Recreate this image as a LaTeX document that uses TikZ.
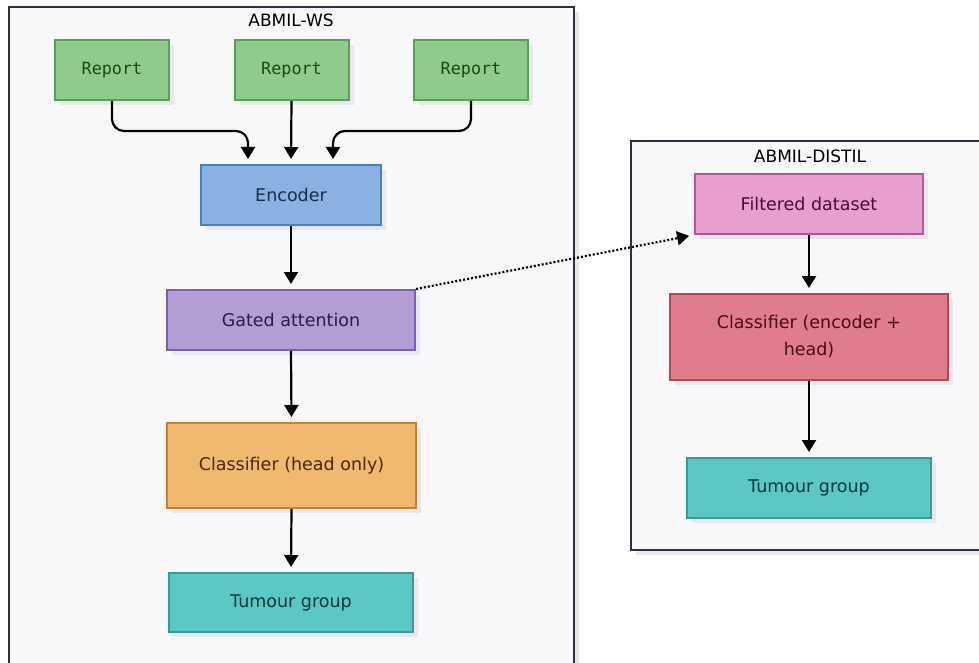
\documentclass[tikz,border=0pt]{standalone}
\usepackage{fontspec}
\setmainfont{DejaVu Sans}
\newfontfamily\repfont{DejaVu Sans Mono}
\usetikzlibrary{arrows.meta,shadows}
\definecolor{clfill}{HTML}{F8F8FB}
\definecolor{cldraw}{HTML}{2E2E40}
\definecolor{shade}{HTML}{E8E8EC}
\definecolor{repfill}{HTML}{8FCB8B}
\definecolor{repdraw}{HTML}{5BA056}
\definecolor{reptext}{HTML}{1A4718}
\definecolor{encfill}{HTML}{8BB0E2}
\definecolor{encdraw}{HTML}{4A7FC0}
\definecolor{enctext}{HTML}{172D4F}
\definecolor{gatfill}{HTML}{B39DD4}
\definecolor{gatdraw}{HTML}{7B5FB0}
\definecolor{gattext}{HTML}{2A1B47}
\definecolor{clsfill}{HTML}{F1B970}
\definecolor{clsdraw}{HTML}{C97D35}
\definecolor{clstext}{HTML}{452A0C}
\definecolor{tumfill}{HTML}{5CC8C6}
\definecolor{tumdraw}{HTML}{3A9A98}
\definecolor{tumtext}{HTML}{0C3837}
\definecolor{fdfill}{HTML}{E89FCF}
\definecolor{fddraw}{HTML}{B5569A}
\definecolor{fdtext}{HTML}{470C3A}
\definecolor{cefill}{HTML}{E07D8C}
\definecolor{cedraw}{HTML}{B04A5B}
\definecolor{cetext}{HTML}{470C16}
\tikzset{
  shad/.style={drop shadow={shadow xshift=5pt,shadow yshift=-5pt,fill=shade,opacity=1}},
  cluster/.style={draw=cldraw,fill=clfill,line width=2pt,shad},
  box/.style={rectangle,line width=2pt,inner sep=0pt,font=\fontsize{17.5}{27}\selectfont,align=center,shad},
  repbox/.style={box,fill=repfill,draw=repdraw,text=reptext,minimum width=114pt,minimum height=60pt,font=\repfont\fontsize{16.8}{20}\selectfont},
  arr/.style={-{Triangle[width=14pt,length=12pt]},line width=2.2pt,shorten >=5pt},
  ctitle/.style={font=\fontsize{17}{18}\selectfont,text=black}
}
\begin{document}
\begin{tikzpicture}[x=1pt,y=-1pt]
\useasboundingbox (0,0) rectangle (979,663);
\fill[white] (0,0) rectangle (979,663);
% clusters
\path[cluster] (9,7) rectangle (574,680);
\node[ctitle] (t1) at (291,20) {ABMIL-WS};
\path[cluster] (631,141) rectangle (995,550);
\node[ctitle] (t2) at (810,156) {ABMIL-DISTIL};
% left nodes
\node[repbox] (r1) at (112,70) {Report};
\node[repbox] (r2) at (291.5,70) {Report};
\node[repbox] (r3) at (471,70) {Report};
\node[box,fill=encfill,draw=encdraw,text=enctext,minimum width=180pt,minimum height=60pt] (enc) at (291,195) {Encoder};
\node[box,fill=gatfill,draw=gatdraw,text=gattext,minimum width=248pt,minimum height=60pt] (gat) at (291,320) {Gated attention};
\node[box,fill=clsfill,draw=clsdraw,text=clstext,minimum width=249pt,minimum height=85pt] (cls) at (291.5,465.5) {Classifier (head only)};
\node[box,fill=tumfill,draw=tumdraw,text=tumtext,minimum width=244pt,minimum height=59pt] (tum1) at (291,602.5) {Tumour group};
% right nodes
\node[box,fill=fdfill,draw=fddraw,text=fdtext,minimum width=228pt,minimum height=60pt] (fd) at (809,204) {Filtered dataset};
\node[box,fill=cefill,draw=cedraw,text=cetext,minimum width=278pt,minimum height=86pt,text width=250pt] (ce) at (809,337) {Classifier (encoder +\\head)};
\node[box,fill=tumfill,draw=tumdraw,text=tumtext,minimum width=244pt,minimum height=60pt] (tum2) at (809,488) {Tumour group};
% arrows
\draw[arr,rounded corners=12pt] (r1.south) -- ++(0,30) -| ([xshift=-43pt]enc.north);
\draw[arr] (r2.south) -- (enc.north);
\draw[arr,rounded corners=12pt] (r3.south) -- ++(0,30) -| ([xshift=42pt]enc.north);
\draw[arr] (enc.south) -- (gat.north);
\draw[arr] (gat.south) -- (cls.north);
\draw[arr] (cls.south) -- (tum1.north);
\draw[arr] (fd.south) -- (ce.north);
\draw[arr] (ce.south) -- (tum2.north);
\draw[arr,dash pattern=on 2pt off 2pt] (gat.north east) -- (fd.south west);
\end{tikzpicture}
\end{document}
